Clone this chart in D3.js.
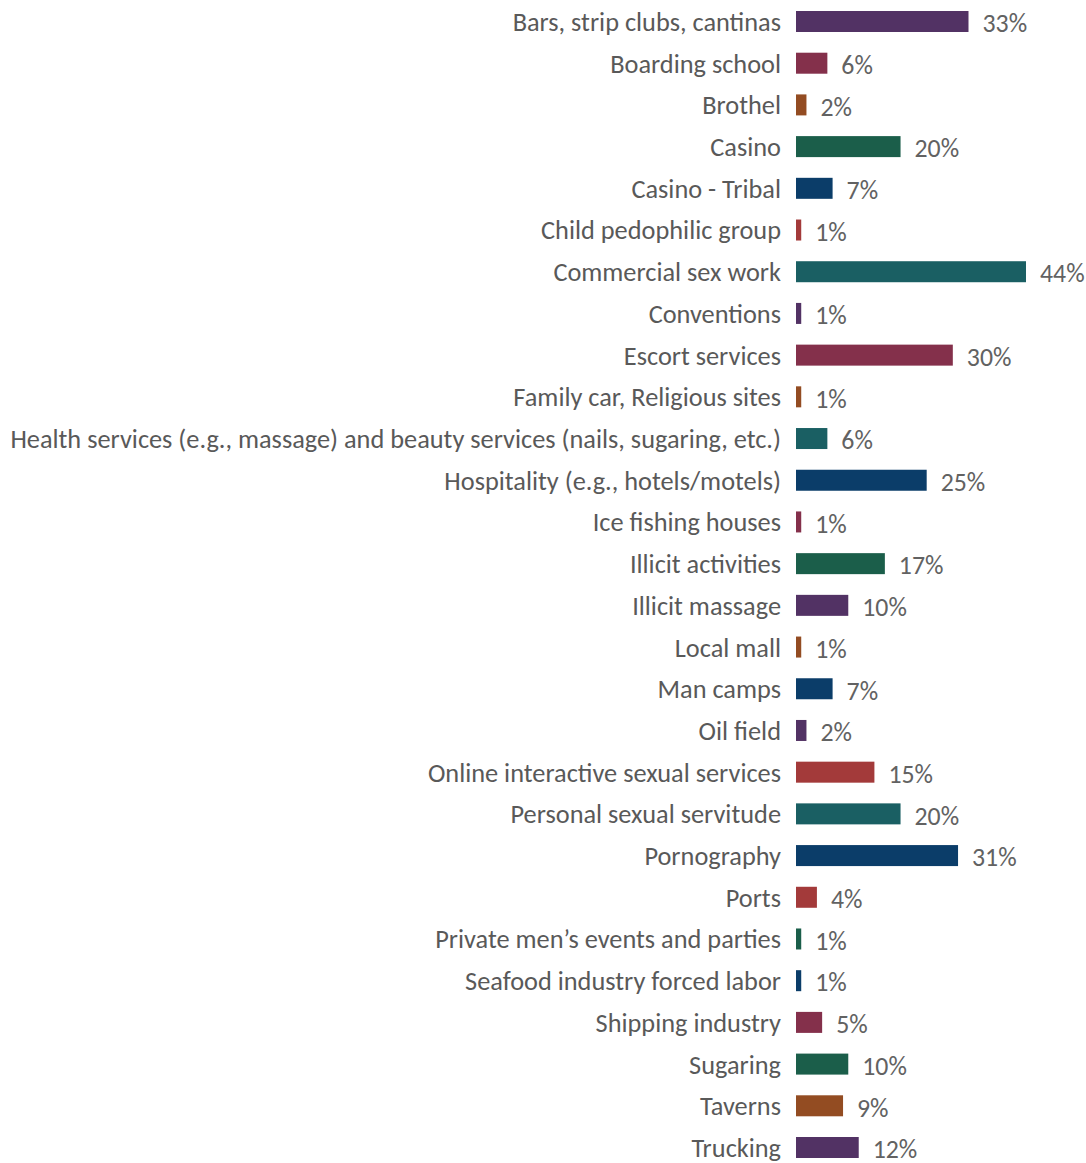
<!DOCTYPE html>
<html>
<head>
<meta charset="utf-8">
<script src="https://cdn.jsdelivr.net/npm/d3@7"></script>
<style>
  html, body { margin: 0; padding: 0; background: #fff; }
  svg { display: block; }
</style>
</head>
<body>
<svg id="chart" width="1086" height="1163"></svg>
<script>
const categories = [
  "Bars, strip clubs, cantinas",
  "Boarding school",
  "Brothel",
  "Casino",
  "Casino - Tribal",
  "Child pedophilic group",
  "Commercial sex work",
  "Conventions",
  "Escort services",
  "Family car, Religious sites",
  "Health services (e.g., massage) and beauty services (nails, sugaring, etc.)",
  "Hospitality (e.g., hotels/motels)",
  "Ice fishing houses",
  "Illicit activities",
  "Illicit massage",
  "Local mall",
  "Man camps",
  "Oil field",
  "Online interactive sexual services",
  "Personal sexual servitude",
  "Pornography",
  "Ports",
  "Private men\u2019s events and parties",
  "Seafood industry forced labor",
  "Shipping industry",
  "Sugaring",
  "Taverns",
  "Trucking"
];
const values = [33, 6, 2, 20, 7, 1, 44, 1, 30, 1, 6, 25, 1, 17, 10, 1, 7, 2, 15, 20, 31, 4, 1, 1, 5, 10, 9, 12];

const PURPLE = "#523264", MAROON = "#84304b", BROWN = "#934c22", GREEN = "#1b5e4a",
      NAVY = "#0b3d69", RED = "#a33a3a", TEAL = "#1a5f63";
const barColors = [PURPLE, MAROON, BROWN, GREEN, NAVY, RED, TEAL, PURPLE, MAROON, BROWN,
  TEAL, NAVY, MAROON, GREEN, PURPLE, BROWN, NAVY, PURPLE, RED, TEAL,
  NAVY, RED, GREEN, NAVY, MAROON, GREEN, BROWN, PURPLE];

const data = categories.map((c, i) => ({ cat: c, value: values[i], color: barColors[i] }));

const svg = d3.select("#chart");
const fontFamily = "Carlito, Lato, 'Open Sans', sans-serif";
const barLeft = 796;
const labelRight = 781;

const x = d3.scaleLinear().domain([0, 44]).range([barLeft, 1026]);
const y = d3.scalePoint().domain(categories).range([21.5, 1147.5]);
const barH = 21;

// Choose font size so the longest label spans the same width as reference
const probe = svg.append("text").attr("font-family", fontFamily).attr("font-size", 100)
  .text(categories[10]);
const w100 = probe.node().getComputedTextLength();
probe.remove();
const labelSize = Math.min(27, 100 * (labelRight - 10) / w100);
const valueSize = labelSize * 0.98;

// Category labels (axis-like)
const yAxis = d3.axisLeft(y).tickSize(0).tickPadding(0);
const axisG = svg.append("g").attr("transform", `translate(${labelRight},0)`).call(yAxis);
axisG.select(".domain").remove();
axisG.selectAll("text")
  .attr("font-family", fontFamily)
  .attr("font-size", labelSize)
  .attr("fill", "#595959")
  .attr("dy", "0.34em");

// Bars
svg.append("g").selectAll("rect").data(data).join("rect")
  .attr("x", x(0))
  .attr("y", d => y(d.cat) - barH / 2)
  .attr("width", d => x(d.value) - x(0))
  .attr("height", barH)
  .attr("fill", d => d.color);

// Value labels
svg.append("g").selectAll("text").data(data).join("text")
  .attr("x", d => x(d.value) + 14)
  .attr("y", d => y(d.cat) + 2)
  .attr("dy", "0.34em")
  .attr("font-family", fontFamily)
  .attr("font-size", valueSize)
  .attr("fill", "#626262")
  .text(d => d.value + "%");
</script>
</body>
</html>
